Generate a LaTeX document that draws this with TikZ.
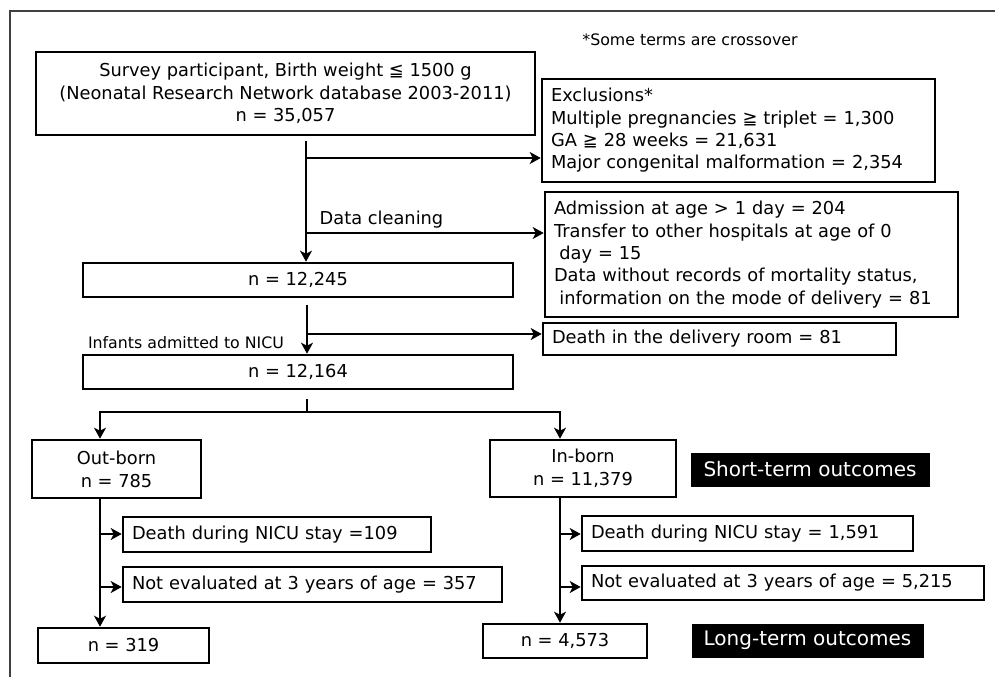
\documentclass[tikz,border=0pt]{standalone}
\usepackage{fontspec}
\setmainfont{DejaVu Sans}
\usetikzlibrary{arrows.meta}
\begin{document}
\begin{tikzpicture}[x=1pt,y=-1pt,
 box/.style={draw, line width=2.6pt, inner sep=0pt, font=\fontsize{17.8}{22.3}\selectfont, align=center},
 lbox/.style={box, align=left, inner xsep=9pt},
 dark/.style={fill=black, draw=black, text=white, inner sep=0pt, font=\fontsize{20}{22}\selectfont},
 conn/.style={line width=2.4pt},
 arr/.style={conn, -{Stealth[length=11pt,width=12pt,inset=3pt]}},
 note/.style={inner sep=0pt, font=\fontsize{15.8}{18}\selectfont}]
\useasboundingbox (0,0) rectangle (995,677);
\draw[line width=1.2pt, black!75] (10,677) -- (10,11) -- (995,11);

\node[note] (crs) at (690,40) {*Some terms are crossover};

\node[box, minimum width=499pt, minimum height=83pt] (top) at (285.5,93.5)
  {Survey participant, Birth weight ≦ 1500 g\\(Neonatal Research Network database 2003-2011)\\n = 35,057};
\node[lbox, text width=375pt, minimum height=103pt] (excl) at (738.5,130.5)
  {Exclusions*\\Multiple pregnancies ≧ triplet = 1,300\\GA ≧ 28 weeks = 21,631\\Major congenital malformation = 2,354};
\node[lbox, text width=395pt, minimum height=125pt] (clean) at (751.5,254.5)
  {Admission at age > 1 day = 204\\Transfer to other hospitals at age of 0\\\hspace*{0.3em}day = 15\\Data without records of mortality status,\\\hspace*{0.3em}information on the mode of delivery = 81};
\node[lbox, text width=335pt, minimum height=32pt] (dr) at (719.5,339)
  {Death in the delivery room = 81};
\node[box, minimum width=430pt, minimum height=34pt] (n1) at (298,280) {n = 12,245};
\node[box, minimum width=430pt, minimum height=34pt] (n2) at (298,372) {n = 12,164};
\node[inner sep=0pt, font=\fontsize{17.8}{18}\selectfont] (dc) at (381.5,220) {Data cleaning};
\node[note] (inf) at (186,343) {Infants admitted to NICU};

\node[box, minimum width=169pt, minimum height=58pt, font=\fontsize{17.8}{23}\selectfont] (out) at (116.5,469) {Out-born\\n = 785};
\node[box, minimum width=186pt, minimum height=57pt, font=\fontsize{17.8}{23}\selectfont] (in) at (583,468.5) {In-born\\n = 11,379};
\node[dark, minimum width=238pt, minimum height=33pt] (st) at (810,469.5) {Short-term outcomes};

\node[lbox, text width=290pt, minimum height=35pt] (d109) at (277,534.5) {Death during NICU stay =109};
\node[lbox, text width=361pt, minimum height=35pt] (ne357) at (312.5,584.5) {Not evaluated at 3 years of age = 357};
\node[box, minimum width=171pt, minimum height=35pt] (n319) at (123.5,645.5) {n = 319};

\node[lbox, text width=313pt, minimum height=35pt] (d1591) at (747.5,533.5) {Death during NICU stay = 1,591};
\node[lbox, text width=384pt, minimum height=34pt] (ne5215) at (783,583) {Not evaluated at 3 years of age = 5,215};
\node[box, minimum width=164pt, minimum height=34pt] (n4573) at (565,641) {n = 4,573};
\node[dark, minimum width=231pt, minimum height=33pt] (lt) at (807.5,640.5) {Long-term outcomes};

% connectors
\coordinate (t1) at (306,0);
\coordinate (t2) at (307,0);
\coordinate (b1) at (0,158);
\coordinate (b2) at (0,233);
\coordinate (b3) at (0,334);
\coordinate (b4) at (0,412);
\coordinate (b5) at (0,534);
\coordinate (b6) at (0,587);
\coordinate (lx) at (100,0);
\coordinate (rx) at (560,0);

\draw[arr, shorten <=5pt] (top.south -| t1) -- (n1.north -| t1);
\draw[arr] (t1 |- b1) -- (excl.west |- b1);
\draw[arr] (t1 |- b2) -- (clean.west |- b2);

\draw[arr, shorten <=7pt] (n1.south -| t2) -- (n2.north -| t2);
\draw[arr] (t2 |- b3) -- (dr.west |- b3);

\draw[conn, shorten <=9pt] (n2.south -| t2) -- (t2 |- b4);
\draw[arr] (t2 |- b4) -- (lx |- b4) -- (out.north -| lx);
\draw[arr] (t2 |- b4) -- (rx |- b4) -- (in.north -| rx);

\draw[arr] (out.south -| lx) -- (n319.north -| lx);
\draw[arr] (lx |- b5) -- (d109.west |- b5);
\draw[arr] (lx |- b6) -- (ne357.west |- b6);

\draw[arr] (in.south -| rx) -- (n4573.north -| rx);
\draw[arr] (rx |- b5) -- (d1591.west |- b5);
\draw[arr] (rx |- b6) -- (ne5215.west |- b6);
\end{tikzpicture}
\end{document}
